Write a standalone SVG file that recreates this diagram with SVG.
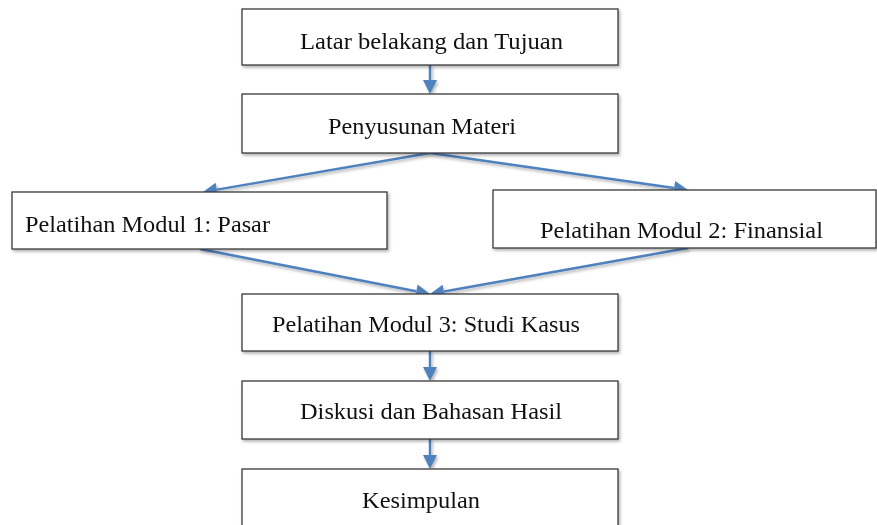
<svg xmlns="http://www.w3.org/2000/svg" width="877" height="525" viewBox="0 0 877 525">
<defs>
<style>
.box{fill:#fff;stroke:#3a3a3a;stroke-width:1.3}
.lbl{font-family:'Liberation Serif','Times New Roman',Times,'DejaVu Serif','Noto Serif',serif;font-size:24px;fill:#111}
.con{stroke:#4f81bd;stroke-width:2.4;fill:none}
.head{fill:#4f81bd}
</style>
<filter id="sh" x="-5%" y="-20%" width="110%" height="150%">
<feDropShadow dx="1.5" dy="2" stdDeviation="1.5" flood-color="#000" flood-opacity="0.3"/>
</filter>
<path id="hd" class="head" d="M0,0 L-14,-7 L-14,7 z"/>
</defs>
<rect width="877" height="525" fill="#fff"/>
<g id="connectors" filter="url(#sh)">
<line class="con" x1="430" y1="65" x2="430" y2="82"/>
<use href="#hd" transform="translate(430,94) rotate(90)"/>
<line class="con" x1="430" y1="153" x2="217" y2="189.6"/>
<use href="#hd" transform="translate(203,192) rotate(170.2)"/>
<line class="con" x1="430" y1="153" x2="674" y2="188"/>
<use href="#hd" transform="translate(688,190) rotate(8.2)"/>
<line class="con" x1="200" y1="249" x2="416" y2="291.3"/>
<use href="#hd" transform="translate(430,294) rotate(11.1)"/>
<line class="con" x1="688" y1="248" x2="444" y2="291.5"/>
<use href="#hd" transform="translate(430,294) rotate(169.9)"/>
<line class="con" x1="430" y1="351" x2="430" y2="369"/>
<use href="#hd" transform="translate(430,381) rotate(90)"/>
<line class="con" x1="430" y1="439" x2="430" y2="457"/>
<use href="#hd" transform="translate(430,469) rotate(90)"/>
</g>
<g id="n1"><rect class="box" x="242" y="9" width="376" height="56" filter="url(#sh)"/><text class="lbl" x="300" y="49" textLength="263" lengthAdjust="spacingAndGlyphs">Latar belakang dan Tujuan</text></g>
<g id="n2"><rect class="box" x="242" y="94" width="376" height="59" filter="url(#sh)"/><text class="lbl" x="328" y="134" textLength="188" lengthAdjust="spacingAndGlyphs">Penyusunan Materi</text></g>
<g id="n3"><rect class="box" x="12" y="192" width="375" height="57" filter="url(#sh)"/><text class="lbl" x="25" y="232" textLength="245" lengthAdjust="spacingAndGlyphs">Pelatihan Modul 1: Pasar</text></g>
<g id="n4"><rect class="box" x="493" y="190" width="383" height="58" filter="url(#sh)"/><text class="lbl" x="540" y="238" textLength="283" lengthAdjust="spacingAndGlyphs">Pelatihan Modul 2: Finansial</text></g>
<g id="n5"><rect class="box" x="242" y="294" width="376" height="57" filter="url(#sh)"/><text class="lbl" x="272" y="332" textLength="308" lengthAdjust="spacingAndGlyphs">Pelatihan Modul 3: Studi Kasus</text></g>
<g id="n6"><rect class="box" x="242" y="381" width="376" height="58" filter="url(#sh)"/><text class="lbl" x="300" y="419" textLength="262" lengthAdjust="spacingAndGlyphs">Diskusi dan Bahasan Hasil</text></g>
<g id="n7"><rect class="box" x="242" y="469" width="376" height="60" filter="url(#sh)"/><text class="lbl" x="362" y="508" textLength="118" lengthAdjust="spacingAndGlyphs">Kesimpulan</text></g>
</svg>
